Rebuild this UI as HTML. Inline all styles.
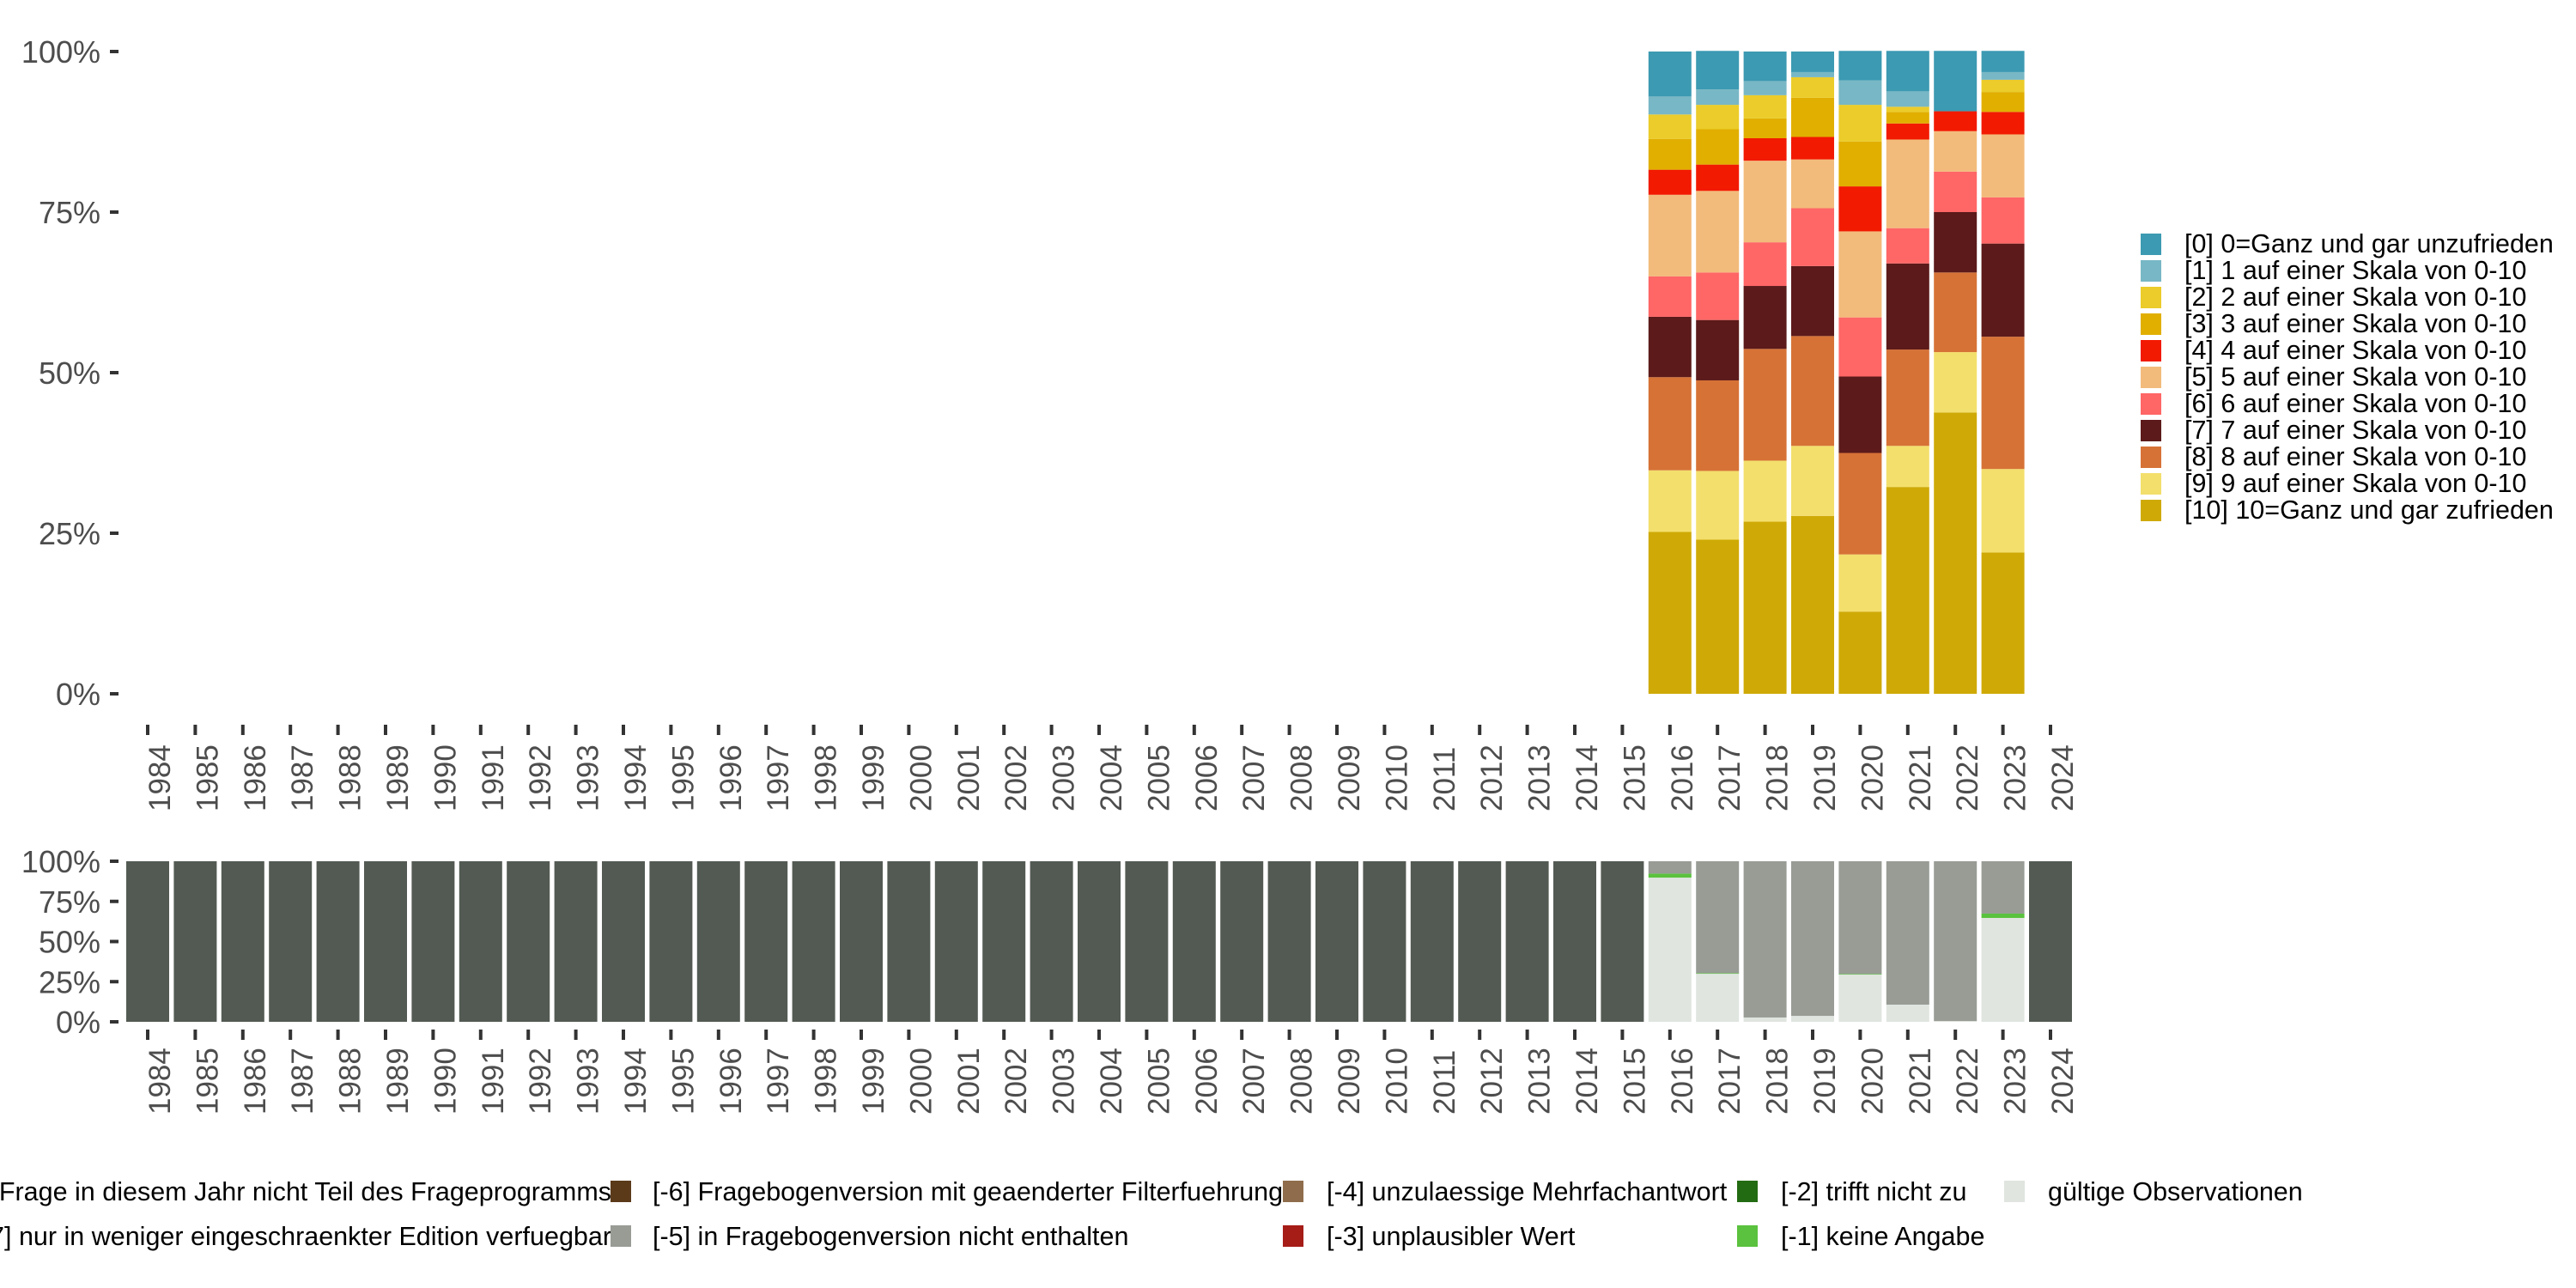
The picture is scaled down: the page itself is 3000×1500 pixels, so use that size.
<!DOCTYPE html>
<html><head><meta charset="utf-8">
<style>
html,body{margin:0;padding:0;background:#fff;}
svg{display:block;font-family:"Liberation Sans",sans-serif;}
</style></head>
<body>
<svg id="chart" width="3000" height="1500" viewBox="0 0 3000 1500" xmlns="http://www.w3.org/2000/svg">
<g id="top"></g>
<g id="bottom"></g>
<g id="legend1"></g>
<g id="legend2"></g>
</svg>
<script>
const years = [];
for (let y = 1984; y <= 2024; y++) years.push(y);
const topYears = [2016, 2017, 2018, 2019, 2020, 2021, 2022, 2023];
const topLabels = ["[0] 0=Ganz und gar unzufrieden","[1] 1 auf einer Skala von 0-10","[2] 2 auf einer Skala von 0-10","[3] 3 auf einer Skala von 0-10","[4] 4 auf einer Skala von 0-10","[5] 5 auf einer Skala von 0-10","[6] 6 auf einer Skala von 0-10","[7] 7 auf einer Skala von 0-10","[8] 8 auf einer Skala von 0-10","[9] 9 auf einer Skala von 0-10","[10] 10=Ganz und gar zufrieden"];
const topColors = ["#3c9ab2","#78b7c5","#ebcc2a","#e1af00","#f21a00","#f2bb7b","#ff6666","#5c1a1a","#d67236","#f3df6c","#cfaa06"];
// shares per category ([0]..[10]) per year
const v2016 = [7.0,2.8,3.8,4.8,3.9,12.7,6.3,9.4,14.5,9.6,25.2];
const v2017 = [6.0,2.4,3.8,5.5,4.1,12.7,7.4,9.4,14.1,10.7,24.0];
const v2018 = [4.6,2.2,3.6,3.1,3.5,12.7,6.8,9.8,17.4,9.5,26.8];
const v2019 = [3.2,0.8,3.2,6.1,3.5,7.6,9.0,10.9,17.1,10.9,27.7];
const v2020 = [4.6,3.8,5.7,7.0,7.0,13.4,9.2,11.9,15.8,8.9,12.8];
const v2021 = [6.3,2.4,0.8,1.8,2.5,13.8,5.5,13.4,15.0,6.4,32.2];
const v2022 = [9.4,0,0,0,3.1,6.3,6.3,9.4,12.4,9.4,43.8];
const v2023 = [3.3,1.2,1.9,3.1,3.5,9.8,7.2,14.5,20.6,13.0,22.0];
const topValues = [v2016,v2017,v2018,v2019,v2020,v2021,v2022,v2023];
const yTicks = [0,25,50,75,100];
const yTickLabels = ["0%","25%","50%","75%","100%"];

// bottom panel: categories stacked bottom->top
const botLabels = ["gültige Observationen","[-1] keine Angabe","[-5] in Fragebogenversion nicht enthalten","[-8] Frage in diesem Jahr nicht Teil des Frageprogramms"];
const botColors = ["#e0e5e0","#5ac23e","#989c95","#535a53"];
const botYears = [2016,2017,2018,2019,2020,2021,2022,2023];
const botValid = [89.8,29.9,2.7,3.7,29.4,10.7,0.5,64.7];
const botNoAnswer = [2.5,0.4,0,0,0.4,0,0,2.7];
const botNotIncluded = [7.7,69.7,97.3,96.3,70.2,89.3,99.5,32.6];

const NS = "http://www.w3.org/2000/svg";
function el(tag, attrs, parent, text) {
  const e = document.createElementNS(NS, tag);
  for (const k in attrs) e.setAttribute(k, attrs[k]);
  if (text !== undefined) e.textContent = text;
  parent.appendChild(e);
  return e;
}
const x0 = 172, step = 55.4, barW = 50;
function xCenter(yr) { return x0 + (yr - 1984) * step; }
function yScaleTop(p) { return 808 - p / 100 * 748; }
function yScaleBot(p) { return 1190 - p / 100 * 187; }

function axes(g, yScale, tickY0, labelY, prefix) {
  yTicks.forEach((t, i) => {
    const y = yScale(t);
    const tk = el('rect', {x:128, y:y-2, width:10, height:4, fill:'#333'}, g);
    
    
    const tx = el('text', {x:117, y:y+13, 'text-anchor':'end', 'font-size':36, fill:'#4d4d4d'}, g, yTickLabels[i]);
    
    
  });
  years.forEach(yr => {
    const cx = xCenter(yr);
    const tk = el('rect', {x:cx-2, y:tickY0, width:4, height:12, fill:'#333'}, g);
    
    
    const tx = el('text', {x:0, y:0, 'font-size':35, fill:'#4d4d4d', transform:`translate(${cx+26},${labelY}) rotate(-90)`}, g, String(yr));
    
    
  });
}

// top panel
const gt = document.getElementById('top');
topYears.forEach((yr, i) => {
  let cum = 0;
  for (let c = topValues[i].length - 1; c >= 0; c--) {
    const v = topValues[i][c];
    if (v <= 0) continue;
    const r = el('rect', {x:xCenter(yr)-barW/2, y:yScaleTop(cum+v), width:barW, height:yScaleTop(cum)-yScaleTop(cum+v), fill:topColors[c]}, gt);
    
    
    cum += v;
  }
});
axes(gt, yScaleTop, 844, 945, 'top');

// bottom panel
const gb = document.getElementById('bottom');
years.forEach(yr => {
  const idx = botYears.indexOf(yr);
  const vals = idx >= 0 ? [botValid[idx], botNoAnswer[idx], botNotIncluded[idx], 0] : [0,0,0,100];
  let cum = 0;
  vals.forEach((v, c) => {
    if (v <= 0) return;
    const r = el('rect', {x:xCenter(yr)-barW/2, y:yScaleBot(cum+v), width:barW, height:yScaleBot(cum)-yScaleBot(cum+v), fill:botColors[c]}, gb);
    
    
    cum += v;
  });
});
axes(gb, yScaleBot, 1199, 1298, 'bottom');

// top legend
const l1 = document.getElementById('legend1');
topLabels.forEach((lab, i) => {
  const y = 272 + i * 31;
  const s = el('rect', {x:2493, y:y, width:24, height:25, fill:topColors[i]}, l1);
  
  
  const t = el('text', {x:2544, y:y+22, 'font-size':30.5, fill:'#000'}, l1, lab);
  
  
});

// bottom legend
const l2 = document.getElementById('legend2');
const legItems = [
  {sx:null, tx:712, y:1387, anchor:'end', c:null, t:"[-8] Frage in diesem Jahr nicht Teil des Frageprogramms"},
  {sx:null, tx:712, y:1439, anchor:'end', c:null, t:"[-7] nur in weniger eingeschraenkter Edition verfuegbar"},
  {sx:711, tx:760, y:1387, c:"#5b3a1a", t:"[-6] Fragebogenversion mit geaenderter Filterfuehrung"},
  {sx:711, tx:760, y:1439, c:"#989c95", t:"[-5] in Fragebogenversion nicht enthalten"},
  {sx:1494, tx:1545, y:1387, c:"#8f6d4c", t:"[-4] unzulaessige Mehrfachantwort"},
  {sx:1494, tx:1545, y:1439, c:"#a61c17", t:"[-3] unplausibler Wert"},
  {sx:2023, tx:2074, y:1387, c:"#236b12", t:"[-2] trifft nicht zu"},
  {sx:2023, tx:2074, y:1439, c:"#5ac23e", t:"[-1] keine Angabe"},
  {sx:2334, tx:2385, y:1387, c:"#e0e5e0", t:"gültige Observationen"}
];
legItems.forEach(it => {
  const t = el('text', {x:it.tx, y:it.y+11, 'font-size':30.5, fill:'#000', 'text-anchor':it.anchor||'start'}, l2, it.t);
  
  
  if (it.sx !== null) {
    const s = el('rect', {x:it.sx, y:it.y-12, width:24, height:25, fill:it.c}, l2);
    
    
  }
});
</script>
</body></html>
